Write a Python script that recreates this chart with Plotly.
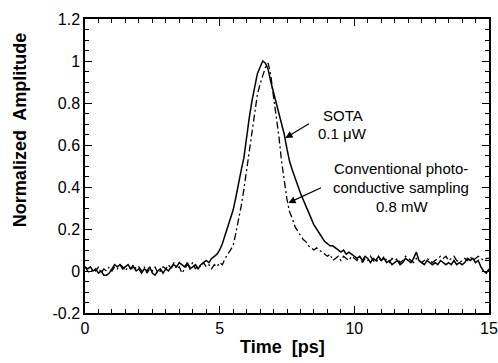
import plotly.graph_objects as go

t = [round(i * 0.1, 1) for i in range(151)]

sota = [
    0.02, 0.01, 0.02, 0.00, 0.01, -0.01, 0.00, -0.02, -0.02, -0.01,
    0.01, 0.03, 0.02, 0.03, 0.01, 0.02, 0.03, 0.01, 0.02, 0.00,
    0.01, -0.01, 0.01, 0.00, 0.02, -0.01, -0.02, 0.00, 0.01, -0.01,
    0.01, 0.00, 0.02, 0.03, 0.02, 0.04, 0.03, 0.02, 0.04, 0.01,
    0.02, 0.03, 0.01, 0.03, 0.04, 0.05, 0.04, 0.06, 0.07, 0.08,
    0.10, 0.13, 0.17, 0.21, 0.25, 0.29, 0.35, 0.42, 0.48, 0.54,
    0.65, 0.73, 0.81, 0.88, 0.94, 0.97, 1.00, 0.99, 0.96, 0.90,
    0.85, 0.79, 0.74, 0.69, 0.65, 0.58, 0.52, 0.48, 0.44, 0.40,
    0.37, 0.34, 0.31, 0.28, 0.25, 0.22, 0.20, 0.18, 0.16, 0.14,
    0.13, 0.12, 0.12, 0.11, 0.10, 0.09, 0.10, 0.08, 0.09, 0.08,
    0.07, 0.06, 0.07, 0.05, 0.07, 0.06, 0.04, 0.06, 0.05, 0.07,
    0.05, 0.06, 0.04, 0.05, 0.03, 0.04, 0.05, 0.03, 0.04, 0.06,
    0.05, 0.04, 0.06, 0.09, 0.05, 0.04, 0.03, 0.05, 0.04, 0.03,
    0.04, 0.03, 0.05, 0.04, 0.03, 0.04, 0.03, 0.05, 0.03, 0.04,
    0.03, 0.04, 0.06, 0.05, 0.06, 0.04, 0.05, 0.02, 0.00, -0.01,
    0.01,
]

conv = [
    0.02, 0.00, -0.01, 0.01, 0.00, 0.02, -0.01, 0.01, 0.00, 0.02,
    0.00, 0.02, 0.01, 0.03, 0.02, 0.00, 0.02, 0.01, 0.03, 0.01,
    0.02, 0.00, 0.02, -0.01, 0.01, 0.00, 0.02, -0.01, 0.00, 0.02,
    0.01, 0.03, 0.01, 0.04, 0.01, 0.02, -0.01, 0.01, 0.03, 0.02,
    0.04, 0.01, 0.03, 0.02, 0.04, 0.02, 0.03, 0.01, 0.03, 0.02,
    0.04, 0.03, 0.06, 0.08, 0.10, 0.12, 0.18, 0.24, 0.31, 0.39,
    0.48, 0.57, 0.68, 0.77, 0.84, 0.89, 0.93, 0.97, 0.99, 0.93,
    0.83, 0.74, 0.64, 0.52, 0.42, 0.34, 0.28, 0.25, 0.21, 0.19,
    0.17, 0.15, 0.14, 0.12, 0.11, 0.10, 0.11, 0.10, 0.09, 0.08,
    0.07, 0.08, 0.05, 0.06, 0.07, 0.05, 0.07, 0.06, 0.05, 0.07,
    0.06, 0.05, 0.07, 0.04, 0.06, 0.05, 0.07, 0.05, 0.04, 0.06,
    0.05, 0.07, 0.05, 0.04, 0.06, 0.05, 0.06, 0.04, 0.05, 0.07,
    0.06, 0.05, 0.04, 0.06, 0.05, 0.04, 0.05, 0.06, 0.05, 0.04,
    0.05, 0.06, 0.07, 0.06, 0.07, 0.05, 0.06, 0.07, 0.05, 0.04,
    0.05, 0.06, 0.05, 0.07, 0.05, 0.06, 0.07, 0.06, 0.05, 0.06,
    0.06,
]

x_ticks = [0, 5, 10, 15]
y_ticks = [-0.2, 0, 0.2, 0.4, 0.6, 0.8, 1, 1.2]
y_tick_labels = ["-0.2", "0", "0.2", "0.4", "0.6", "0.8", "1", "1.2"]

FONT = "Liberation Sans, Arial, Helvetica, sans-serif"

fig = go.Figure()
fig.add_trace(go.Scatter(x=t, y=conv, mode="lines",
                         line=dict(color="black", width=1.3, dash="7px,3px,2px,3px"),
                         showlegend=False))
fig.add_trace(go.Scatter(x=t, y=sota, mode="lines",
                         line=dict(color="black", width=1.5),
                         showlegend=False))

axis_common = dict(
    showgrid=False, zeroline=False, showline=True, linecolor="black", linewidth=1.5,
    mirror="allticks", ticks="inside", tickcolor="black", tickwidth=1.2,
    tickfont=dict(family=FONT, size=16, color="black"), automargin=False,
)

fig.update_xaxes(range=[0, 15], tickvals=x_ticks, ticklen=7,
                 minor=dict(dtick=0.5, ticks="inside", ticklen=4, tickcolor="black", tickwidth=1),
                 **axis_common)
fig.update_yaxes(range=[-0.2, 1.2], tickvals=y_ticks, ticktext=y_tick_labels, ticklen=7,
                 minor=dict(dtick=0.05, ticks="inside", ticklen=4, tickcolor="black", tickwidth=1),
                 **axis_common)

ann_font = dict(family=FONT, size=15, color="black")
fig.add_annotation(x=7.44, y=0.633, ax=8.37, ay=0.705, xref="x", yref="y", axref="x", ayref="y",
                   showarrow=True, arrowhead=2, arrowsize=1.2, arrowwidth=1.2, arrowcolor="black", text="")
fig.add_annotation(x=7.55, y=0.324, ax=8.82, ay=0.40, xref="x", yref="y", axref="x", ayref="y",
                   showarrow=True, arrowhead=2, arrowsize=1.2, arrowwidth=1.2, arrowcolor="black", text="")
fig.add_annotation(x=9.57, y=0.74, xref="x", yref="y", text="SOTA", showarrow=False, font=ann_font)
fig.add_annotation(x=9.57, y=0.655, xref="x", yref="y", text="0.1 μW", showarrow=False, font=ann_font)
fig.add_annotation(x=11.72, y=0.49, xref="x", yref="y", text="Conventional photo-", showarrow=False, font=ann_font)
fig.add_annotation(x=11.72, y=0.40, xref="x", yref="y", text="conductive sampling", showarrow=False, font=ann_font)
fig.add_annotation(x=11.80, y=0.305, xref="x", yref="y", text="0.8 mW", showarrow=False, font=ann_font)

title_font = dict(family=FONT, size=18, color="black")
fig.add_annotation(x=0.49, y=0, xref="paper", yref="paper", yshift=-34, yanchor="middle",
                   text="<b>Time  [ps]</b>", showarrow=False, font=title_font)
fig.add_annotation(x=0, y=0.622, xref="paper", yref="paper", xshift=-65, xanchor="center",
                   text="<b>Normalized  Amplitude</b>", textangle=-90, showarrow=False, font=title_font)

fig.update_layout(
    width=498, height=363,
    margin=dict(l=85, r=9, t=19, b=50),
    plot_bgcolor="white", paper_bgcolor="white",
)

# Remove the browser's default 8px page margin so the figure fills the window exactly.
fig.write_html(
    "out.html",
    config={"displayModeBar": False},
    post_script="document.documentElement.style.overflow='hidden';"
                "document.body.style.margin='0';document.body.style.overflow='hidden';",
)
